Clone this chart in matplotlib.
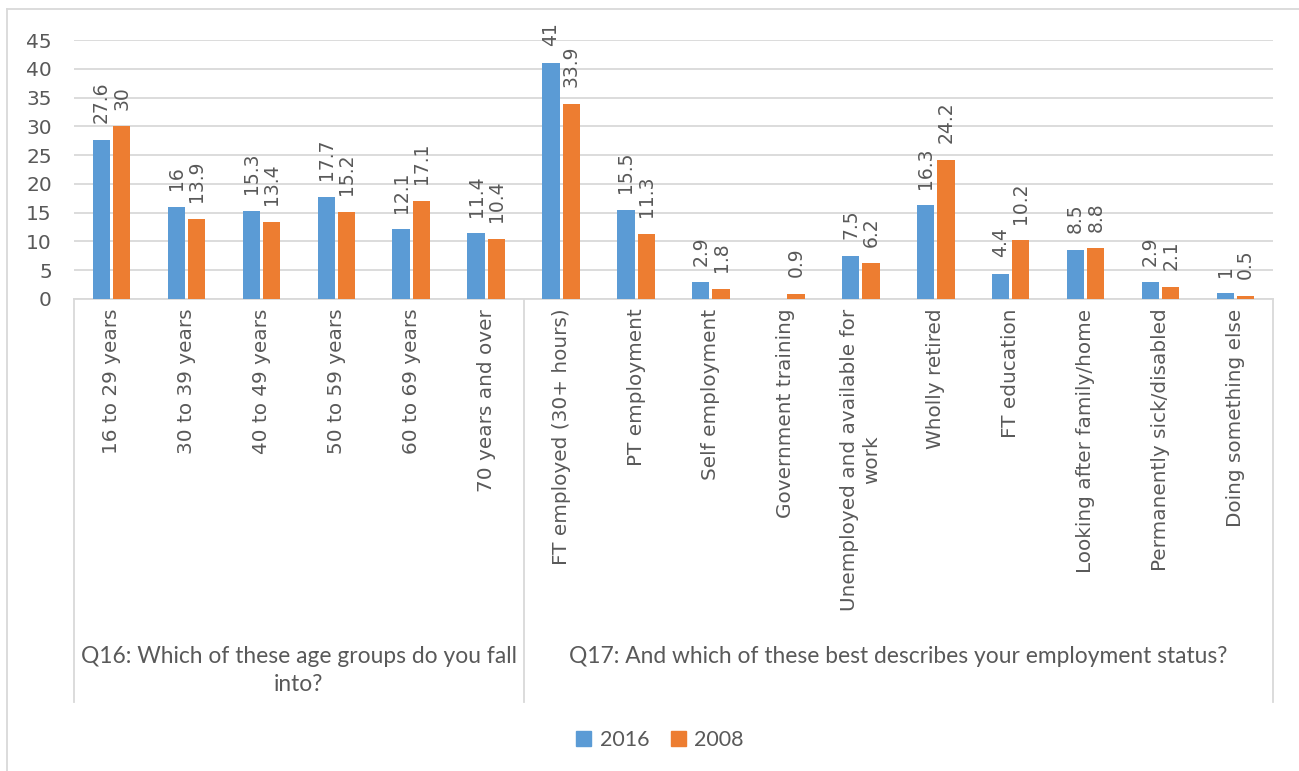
import numpy as np
import matplotlib
matplotlib.use('Agg')
import matplotlib.pyplot as plt
from matplotlib.lines import Line2D
from matplotlib.transforms import blended_transform_factory
from matplotlib.patches import Patch

categories = ['16 to 29 years', '30 to 39 years', '40 to 49 years', '50 to 59 years',
              '60 to 69 years', '70 years and over',
              'FT employed (30+ hours)', 'PT employment', 'Self employment',
              'Government training', 'Unemployed and available for\nwork',
              'Wholly retired', 'FT education', 'Looking after family/home',
              'Permanently sick/disabled', 'Doing something else']
v2016 = [27.6, 16, 15.3, 17.7, 12.1, 11.4, 41, 15.5, 2.9, np.nan, 7.5, 16.3, 4.4, 8.5, 2.9, 1]
v2008 = [30, 13.9, 13.4, 15.2, 17.1, 10.4, 33.9, 11.3, 1.8, 0.9, 6.2, 24.2, 10.2, 8.8, 2.1, 0.5]
groups = ['Q16: Which of these age groups do you fall\ninto?',
          'Q17: And which of these best describes your employment status?']
group_sizes = [6, 10]

blue = '#5B9BD5'
orange = '#ED7D31'
txt = '#595959'
grid = '#D9D9D9'

W, H = 1299, 771
fig = plt.figure(figsize=(W / 100, H / 100), dpi=100)
ax = fig.add_axes([74 / W, 1 - 299 / H, 1199 / W, 259 / H])

x = np.arange(len(categories))
bw = 0.23
off = 0.135
ax.bar(x - off, v2016, bw, color=blue, zorder=3)
ax.bar(x + off, v2008, bw, color=orange, zorder=3)

for xi, v in zip(x, v2016):
    if not np.isnan(v):
        ax.annotate(f'{v:g}', (xi - off, v), xytext=(0, 12), textcoords='offset points',
                    rotation=90, ha='center', va='bottom', color=txt, fontsize=13.5,
                    annotation_clip=False)
for xi, v in zip(x, v2008):
    ax.annotate(f'{v:g}', (xi + off, v), xytext=(0, 12), textcoords='offset points',
                rotation=90, ha='center', va='bottom', color=txt, fontsize=13.5,
                annotation_clip=False)

ax.set_xlim(-0.5, len(categories) - 0.5)
ax.set_ylim(0, 45)
ax.set_yticks(range(0, 50, 5))
ax.yaxis.grid(True, color=grid, lw=1.3, zorder=0)
for s in ['top', 'right', 'left']:
    ax.spines[s].set_visible(False)
ax.spines['bottom'].set_color(grid)
ax.spines['bottom'].set_linewidth(1.3)
ax.tick_params(axis='y', length=0, pad=16, labelsize=14.5, labelcolor=txt)
ax.set_xticks(x)
ax.set_xticklabels(categories, rotation=90, va='top', ha='center', fontsize=14.4,
                   color=txt, multialignment='center')
ax.tick_params(axis='x', length=0, pad=7)

# multi-level category axis
tr = blended_transform_factory(ax.transData, ax.transAxes)
ybot = -(702 - 299) / 259
edges = np.concatenate([[0], np.cumsum(group_sizes)]) - 0.5
for e in edges:
    ax.add_line(Line2D([e, e], [0, ybot], transform=tr, color=grid, lw=1.3, clip_on=False))
for i, g in enumerate(groups):
    cx = (edges[i] + edges[i + 1]) / 2
    ax.text(cx, -(646 - 299) / 259, g, transform=tr, ha='center', va='top',
            fontsize=16.4, color=txt, family='Lato', linespacing=1.4)

handles = [Patch(color=blue, label='2016'), Patch(color=orange, label='2008')]
fig.legend(handles=handles, loc='center', bbox_to_anchor=(660 / W, 1 - 740 / H), ncol=2,
           frameon=False, prop={'family': 'Lato', 'size': 15.5}, labelcolor=txt,
           handlelength=0.7, handleheight=0.7, handletextpad=0.4, columnspacing=1.0)

# outer chart border
fig.add_artist(Line2D([7 / W, 1], [1 - 9 / H, 1 - 9 / H], color=grid, lw=1.3))
fig.add_artist(Line2D([7 / W, 7 / W], [0, 1 - 9 / H], color=grid, lw=1.3))

fig.savefig('out.png', dpi=100)
